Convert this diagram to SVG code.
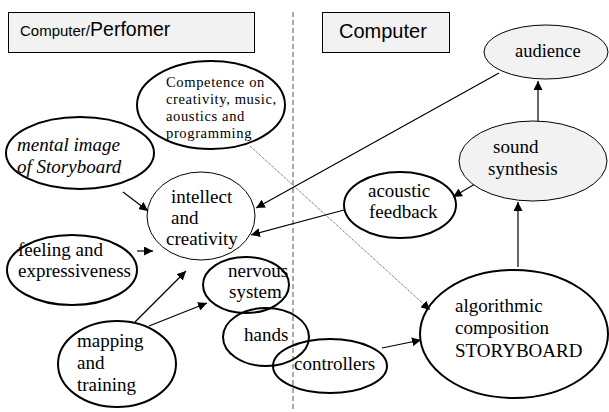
<svg xmlns="http://www.w3.org/2000/svg" width="609" height="412" viewBox="0 0 609 412">
<defs>
<style>
.thick{fill:none;stroke:#000;stroke-width:2}
.thin{fill:none;stroke:#000;stroke-width:1}
.gray{fill:#f2f2f2;stroke:#000;stroke-width:1}
.box{fill:#f2f2f2;stroke:#000;stroke-width:1}
.ln{stroke:#000;stroke-width:1.2;fill:none}
</style>
<marker id="ah" viewBox="0 0 10 10" refX="10" refY="5" markerWidth="9" markerHeight="9" markerUnits="userSpaceOnUse" orient="auto"><path d="M0,0 L10,5 L0,10 z" fill="#000"/></marker>
</defs>
<rect width="609" height="412" fill="#fff"/>
<g id="title-left"><rect class="box" x="8.5" y="12.5" width="246" height="40"/><text font-family="Liberation Sans, Arial, sans-serif" x="20" y="36" font-size="15">Computer/<tspan font-size="19.5">Perfomer</tspan></text></g>
<g id="title-right"><rect class="box" x="322.5" y="12.5" width="127" height="40"/><text font-family="Liberation Sans, Arial, sans-serif" x="339" y="38" font-size="20">Computer</text></g>
<line x1="293" y1="12" x2="293" y2="410" stroke="#555" stroke-width="1" stroke-dasharray="5,3"/>
<g id="connectors">
<line class="ln" x1="538" y1="121" x2="538" y2="81" marker-end="url(#ah)"/>
<line class="ln" x1="499" y1="73" x2="256" y2="208" marker-end="url(#ah)"/>
<line class="ln" x1="480" y1="181" x2="453" y2="197" marker-end="url(#ah)"/>
<line class="ln" x1="344" y1="210" x2="251" y2="235" marker-end="url(#ah)"/>
<line class="ln" x1="518" y1="267" x2="518" y2="202" marker-end="url(#ah)"/>
<line class="ln" x1="382" y1="348" x2="421" y2="340" marker-end="url(#ah)"/>
<line class="ln" x1="135" y1="322" x2="186" y2="271" marker-end="url(#ah)"/>
<line class="ln" x1="149" y1="326" x2="207" y2="303" marker-end="url(#ah)"/>
<line class="ln" x1="137" y1="251" x2="153" y2="251" marker-end="url(#ah)"/>
<line class="ln" x1="123" y1="192" x2="148" y2="211" marker-end="url(#ah)"/>
<line x1="250" y1="146" x2="430" y2="310" stroke="#000" stroke-width="0.7" stroke-dasharray="1,1" marker-end="url(#ah)"/>
</g>
<g font-family="Liberation Serif, Times New Roman, serif" fill="#000" font-size="19">
<g id="audience"><ellipse class="gray" cx="546" cy="52" rx="62" ry="27"/><text x="515" y="57" font-size="18.5">audience</text></g>
<g id="sound-synthesis"><ellipse class="gray" cx="533" cy="161" rx="74" ry="40"/><text><tspan x="493" y="153">sound</tspan><tspan x="488" y="175">synthesis</tspan></text></g>
<g id="acoustic-feedback"><ellipse class="thick" cx="400" cy="205" rx="56" ry="33"/><text><tspan x="368" y="197">acoustic</tspan><tspan x="369" y="218">feedback</tspan></text></g>
<g id="algorithmic"><ellipse class="thick" cx="514" cy="334" rx="94" ry="64"/><text><tspan x="455" y="312">algorithmic</tspan><tspan x="455" y="334">composition</tspan><tspan x="455" y="357">STORYBOARD</tspan></text></g>
<g id="controllers"><ellipse class="thick" cx="330" cy="366" rx="57" ry="27"/><text x="294" y="370">controllers</text></g>
<g id="hands"><ellipse class="thick" cx="266" cy="337" rx="43" ry="29"/><text x="244" y="341">hands</text></g>
<g id="nervous-system"><ellipse class="thick" cx="246" cy="285" rx="43" ry="28"/><text><tspan x="228" y="277">nervous</tspan><tspan x="229" y="298">system</tspan></text></g>
<g id="mapping"><ellipse class="thick" cx="117" cy="364" rx="59" ry="43"/><text><tspan x="77" y="347">mapping</tspan><tspan x="77" y="369">and</tspan><tspan x="77" y="391">training</tspan></text></g>
<g id="feeling"><ellipse class="thick" cx="72" cy="270" rx="65" ry="35"/><text><tspan x="18" y="256">feeling and</tspan><tspan x="18" y="277">expressiveness</tspan></text></g>
<g id="mental-image"><ellipse class="thick" cx="80" cy="153" rx="74" ry="36"/><text font-style="italic"><tspan x="17" y="151">mental image</tspan><tspan x="17" y="173">of Storyboard</tspan></text></g>
<g id="intellect"><ellipse class="thin" cx="201" cy="216" rx="54" ry="44"/><text><tspan x="171" y="203">intellect</tspan><tspan x="171" y="224">and</tspan><tspan x="166" y="245">creativity</tspan></text></g>
<g id="competence"><ellipse class="thick" cx="211" cy="105" rx="74" ry="44"/><text font-size="14.6" letter-spacing="0.6"><tspan x="166" y="87">Competence on</tspan><tspan x="166" y="104">creativity, music,</tspan><tspan x="166" y="121">aoustics and</tspan><tspan x="166" y="138">programming</tspan></text></g>
</g>
</svg>
